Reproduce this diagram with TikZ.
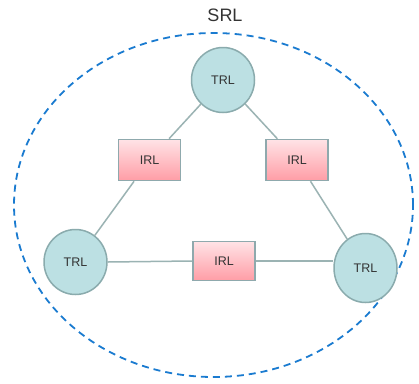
\documentclass[tikz,border=0pt]{standalone}
\usepackage{fontspec}
\setmainfont{Liberation Sans}
\usetikzlibrary{shapes.geometric}
\definecolor{trlfill}{HTML}{BCE0E3}
\definecolor{trldraw}{HTML}{8AABAD}
\definecolor{irldraw}{HTML}{8FA9AD}
\definecolor{irltop}{HTML}{FFE3E6}
\definecolor{irlbot}{HTML}{FF9DA6}
\definecolor{linkc}{HTML}{9BB3B3}
\definecolor{srlc}{HTML}{1A7BD0}
\definecolor{txt}{HTML}{333333}
\tikzset{
  trl/.style={ellipse, draw=trldraw, fill=trlfill, line width=1.5pt, minimum width=63pt, minimum height=65pt, inner sep=0pt, text=txt, font=\fontsize{12.5}{14}\selectfont},
  irl/.style={rectangle, draw=irldraw, top color=irltop, bottom color=irlbot, line width=1.6pt, minimum width=62pt, minimum height=41pt, inner sep=0pt, text=txt, font=\fontsize{12.5}{14}\selectfont},
  link/.style={draw=linkc, line width=1.5pt},
  srl/.style={draw=srlc, line width=1.8pt, dash pattern=on 7pt off 5pt}
}
\begin{document}
\begin{tikzpicture}[x=1pt,y=-1pt]
\useasboundingbox (0,0) rectangle (419,383);
\fill[white] (0,0) rectangle (419,383);
\node[ellipse, srl, minimum width=399pt, minimum height=344pt, inner sep=0pt] (srlring) at (213.5,205) {};
\node[text=txt, font=\fontsize{18}{20}\selectfont] (srllabel) at (225,15) {SRL};
\node[trl] (t1) at (223,80) {TRL};
\node[trl] (t2) at (75.5,262) {TRL};
\node[trl, minimum height=69pt] (t3) at (365.5,268) {TRL};
\node[irl] (i1) at (149.5,160) {IRL};
\node[irl] (i2) at (297,160) {IRL};
\node[irl, minimum height=39pt] (i3) at (224,261) {IRL};
\draw[link] (t1) -- (i1);
\draw[link] (i1) -- (t2);
\draw[link] (t1) -- (i2);
\draw[link] (i2) -- (t3);
\draw[link] (t2.east) -- (i3.west);
\draw[link] (i3.east) -- (t3.west |- i3.east);
\end{tikzpicture}
\end{document}
